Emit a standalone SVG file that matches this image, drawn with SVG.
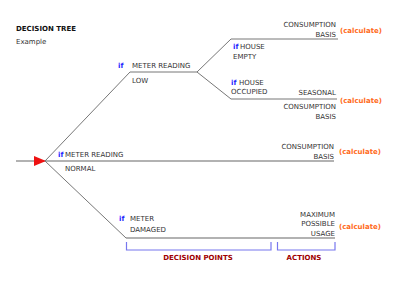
<svg xmlns="http://www.w3.org/2000/svg" width="400" height="284" viewBox="0 0 400 284">
<style>
text{font-family:"DejaVu Sans",Verdana,sans-serif;font-size:7px;fill:#333}
.t{font-weight:bold;fill:#111}
.if{fill:#1a1aff;font-weight:bold}
.calc{fill:#ff6a1a;font-weight:bold}
.r{text-anchor:end}
.lab{fill:#a00000;font-weight:bold;text-anchor:middle}
.ln{stroke:#777;stroke-width:1;fill:none}
.main{stroke:#999;stroke-width:1.5;fill:none}
.br{stroke:#7777ee;stroke-width:1.2;fill:none}
</style>
<rect width="400" height="284" fill="#fff"/>
<g id="title">
<text class="t" x="16" y="31">DECISION TREE</text>
<text x="16" y="44">Example</text>
</g>
<g id="connectors">
<line class="main" x1="16" y1="161" x2="334" y2="161"/>
<polygon points="34,156 46,161 34,166" fill="#ee1111"/>
<polyline class="ln" points="130,72 45,161"/>
<polyline class="ln" points="45,161 126,238"/>
<line class="ln" x1="130" y1="72" x2="197" y2="72"/>
<polyline class="ln" points="197,72 231,39 338,39"/>
<polyline class="ln" points="197,72 231,99 337,99"/>
<line class="main" x1="126" y1="238" x2="335" y2="238"/>
</g>
<g id="node-low">
<text class="if" x="118" y="68">if</text>
<text x="132" y="68">METER READING</text>
<text x="132" y="83">LOW</text>
</g>
<g id="node-empty">
<text class="if" x="233" y="49">if</text>
<text x="240" y="49">HOUSE</text>
<text x="233" y="59">EMPTY</text>
</g>
<g id="action-1">
<text class="r" x="336" y="27">CONSUMPTION</text>
<text class="r" x="336" y="37">BASIS</text>
<text class="calc" x="340" y="33">(calculate)</text>
</g>
<g id="node-occupied">
<text class="if" x="231" y="85">if</text>
<text x="239" y="85">HOUSE</text>
<text x="231" y="94">OCCUPIED</text>
</g>
<g id="action-2">
<text class="r" x="336" y="95">SEASONAL</text>
<text class="r" x="336" y="109">CONSUMPTION</text>
<text class="r" x="336" y="119">BASIS</text>
<text class="calc" x="340" y="103">(calculate)</text>
</g>
<g id="node-normal">
<text class="if" x="58" y="157">if</text>
<text x="65" y="157">METER READING</text>
<text x="65" y="171">NORMAL</text>
</g>
<g id="action-3">
<text class="r" x="334" y="149">CONSUMPTION</text>
<text class="r" x="334" y="159">BASIS</text>
<text class="calc" x="339" y="154">(calculate)</text>
</g>
<g id="node-damaged">
<text class="if" x="119" y="221">if</text>
<text x="130" y="221">METER</text>
<text x="130" y="232">DAMAGED</text>
</g>
<g id="action-4">
<text class="r" x="335" y="217">MAXIMUM</text>
<text class="r" x="335" y="226">POSSIBLE</text>
<text class="r" x="335" y="236">USAGE</text>
<text class="calc" x="339" y="229">(calculate)</text>
</g>
<g id="brackets">
<polyline class="br" points="126.5,242 126.5,250 271,250 271,242"/>
<polyline class="br" points="277.5,242 277.5,250 335,250 335,242"/>
<text class="lab" x="198" y="260">DECISION POINTS</text>
<text class="lab" x="304" y="260">ACTIONS</text>
</g>
</svg>
